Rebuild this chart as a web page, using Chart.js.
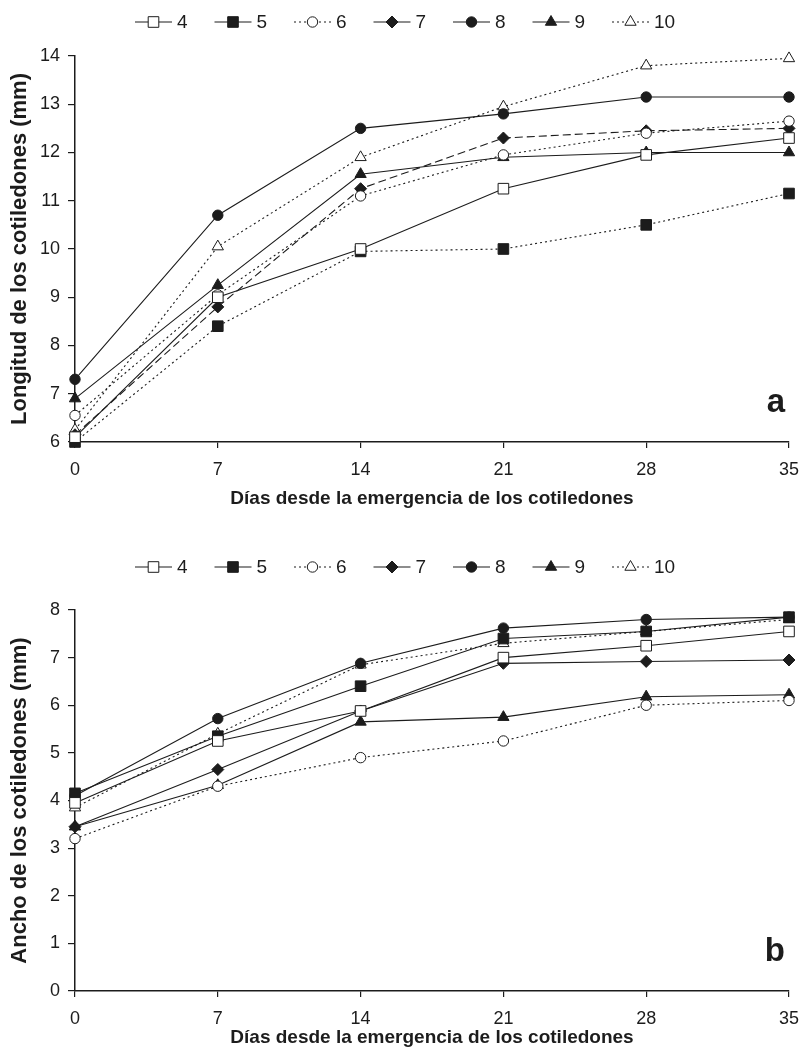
<!DOCTYPE html>
<html><head><meta charset="utf-8">
<script src="https://cdn.jsdelivr.net/npm/chart.js@4.4.0/dist/chart.umd.min.js"></script>
<style>
html,body{margin:0;padding:0;background:#fff;}
#wrap{position:relative;width:801px;height:1062px;}
canvas{position:absolute;left:0;}
</style></head><body>
<div id="wrap">
<canvas id="ca" width="801" height="530" style="top:0px"></canvas>
<canvas id="cb" width="801" height="532" style="top:530px"></canvas>
</div>
<script>
// ---- data ----
const days = [0, 7, 14, 21, 28, 35];
const seriesNames = ['4', '5', '6', '7', '8', '9', '10'];

// Panel a: Longitud de los cotiledones (mm)
const longitud4  = [6.1, 9.0, 10.0, 11.25, 11.95, 12.3];
const longitud5  = [6.0, 8.4, 9.95, 10.0, 10.5, 11.15];
const longitud6  = [6.55, 9.05, 11.1, 11.95, 12.4, 12.65];
const longitud7  = [6.15, 8.8, 11.25, 12.3, 12.45, 12.5];
const longitud8  = [7.3, 10.7, 12.5, 12.8, 13.15, 13.15];
const longitud9  = [6.9, 9.25, 11.55, 11.9, 12.0, 12.0];
const longitud10 = [6.25, 10.05, 11.9, 12.95, 13.8, 13.95];

// Panel b: Ancho de los cotiledones (mm)
const ancho4  = [3.95, 5.25, 5.88, 7.0, 7.25, 7.55];
const ancho5  = [4.15, 5.35, 6.4, 7.4, 7.55, 7.85];
const ancho6  = [3.2, 4.3, 4.9, 5.25, 6.0, 6.1];
const ancho7  = [3.45, 4.65, 5.88, 6.88, 6.92, 6.95];
const ancho8  = [4.1, 5.72, 6.88, 7.62, 7.8, 7.85];
const ancho9  = [3.45, 4.32, 5.65, 5.75, 6.18, 6.22];
const ancho10 = [3.85, 5.4, 6.85, 7.3, 7.55, 7.8];

const yTicksA = [6, 7, 8, 9, 10, 11, 12, 13, 14];
const yTicksB = [0, 1, 2, 3, 4, 5, 6, 7, 8];

// ---- styles ----
const FONT = '"Liberation Sans", Arial, sans-serif';
const INK = '#1c1c1c';
const pStyles = ['rect', 'rect', 'circle', 'rectRot', 'circle', 'triangle', 'triangle'];
const pFills  = ['#ffffff', INK, '#ffffff', INK, INK, INK, '#ffffff'];
const pRadii  = [7.5, 7.5, 5.2, 6, 5.2, 6.5, 6.5];
const DOT = [2, 3], DASH = [8, 4];
const dashesA = [[], DOT, DOT, DASH, [], [], DOT];
const dashesB = [[], [], DOT, [], [], [], DOT];
const legendDashes = [[], [], DOT, [], [], [], DOT];

const legendPlugin = {
  id: 'customLegend',
  afterDraw(chart, args, opts) {
    const ctx = chart.ctx;
    ctx.save();
    const y = opts.y;
    seriesNames.forEach((n, i) => {
      const x0 = 135 + i * 79.5;
      ctx.strokeStyle = INK;
      ctx.lineWidth = 1.2;
      ctx.setLineDash(legendDashes[i]);
      ctx.beginPath();
      ctx.moveTo(x0, y);
      ctx.lineTo(x0 + 37, y);
      ctx.stroke();
      ctx.setLineDash([]);
      ctx.fillStyle = pFills[i];
      ctx.strokeStyle = INK;
      ctx.lineWidth = 1;
      Chart.helpers.drawPoint(ctx, {pointStyle: pStyles[i], radius: pRadii[i], rotation: 0, borderWidth: 1}, x0 + 18.5, y);
      ctx.fillStyle = INK;
      ctx.font = '19px ' + FONT;
      ctx.textBaseline = 'middle';
      ctx.textAlign = 'left';
      ctx.fillText(n, x0 + 42, y + 1);
    });
    // panel letter
    ctx.font = 'bold 33px ' + FONT;
    ctx.textAlign = 'right';
    ctx.textBaseline = 'alphabetic';
    ctx.fillText(opts.letter, chart.chartArea.right - 4, chart.chartArea.bottom - 30);
    ctx.restore();
  }
};

function makeChart(id, series, yMin, yMax, yTicks, yTitle, dashes, letter, H, top, bottom, legendY, xTitleY) {
  const datasets = series.map((vals, i) => ({
    label: seriesNames[i],
    data: days.map((d, j) => ({x: d, y: vals[j]})),
    borderColor: INK,
    borderWidth: 1.1,
    borderDash: dashes[i],
    pointStyle: pStyles[i],
    pointRadius: pRadii[i],
    pointHoverRadius: pRadii[i],
    pointBackgroundColor: pFills[i],
    pointBorderColor: INK,
    pointBorderWidth: 1,
    tension: 0,
    clip: false
  }));
  const titleFont = 19;
  return new Chart(document.getElementById(id), {
    type: 'line',
    data: {datasets},
    plugins: [legendPlugin],
    options: {
      responsive: false,
      animation: false,
      events: [],
      layout: {padding: {top: top, right: 12, left: 0, bottom: 0}},
      plugins: {
        legend: {display: false},
        tooltip: {enabled: false},
        customLegend: {y: legendY, letter: letter}
      },
      scales: {
        x: {
          type: 'linear', min: 0, max: 35,
          afterBuildTicks(s) { s.ticks = days.map(v => ({value: v})); },
          afterFit(s) { s.height = H - bottom; s.paddingLeft = 0; s.paddingRight = 0; },
          grid: {drawOnChartArea: false, drawTicks: true, tickLength: 6, color: INK, lineWidth: 1.2},
          border: {color: INK, width: 1.5},
          ticks: {color: INK, font: {size: 18, family: FONT}, padding: 11, maxRotation: 0},
          title: {display: true, text: 'Días desde la emergencia de los cotiledones', color: INK,
                  font: {size: titleFont, weight: 'bold', family: FONT},
                  padding: {top: 0, bottom: H - xTitleY - titleFont * 0.6}}
        },
        y: {
          type: 'linear', min: yMin, max: yMax,
          afterBuildTicks(s) { s.ticks = yTicks.map(v => ({value: v})); },
          afterFit(s) { s.width = 75; s.paddingTop = 0; s.paddingBottom = 0; },
          grid: {drawOnChartArea: false, drawTicks: true, tickLength: 7, color: INK, lineWidth: 1.2},
          border: {color: INK, width: 1.5},
          ticks: {color: INK, font: {size: 18, family: FONT}, padding: 8},
          title: {display: true, text: yTitle, color: INK,
                  font: {size: 22, weight: 'bold', family: FONT}, padding: {top: 7, bottom: 0}}
        }
      }
    }
  });
}

makeChart('ca', [longitud4, longitud5, longitud6, longitud7, longitud8, longitud9, longitud10],
  6, 14, yTicksA, 'Longitud de los cotiledones (mm)', dashesA, 'a', 530, 56, 442, 22, 499);
makeChart('cb', [ancho4, ancho5, ancho6, ancho7, ancho8, ancho9, ancho10],
  0, 8, yTicksB, 'Ancho de los cotiledones (mm)', dashesB, 'b', 532, 80, 461, 37, 508);
</script>
</body></html>
